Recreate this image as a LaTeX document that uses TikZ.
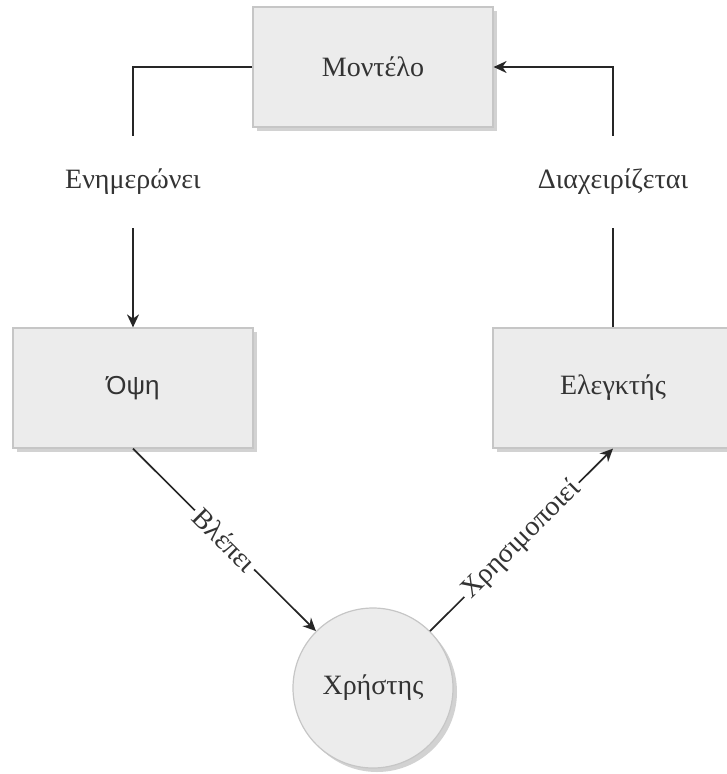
\documentclass[tikz,border=0pt]{standalone}
\usepackage{fontspec}
\setmainfont{Liberation Serif}
\newfontfamily\opsifont{Liberation Sans}
\usetikzlibrary{arrows.meta,shadows}

\begin{document}
\begin{tikzpicture}[x=1pt, y=-1pt, font=\fontsize{28}{32}\selectfont,
  box/.style={draw=gray!45, line width=1.2pt, fill=gray!15, minimum width=240pt, minimum height=120pt, text=black!80,
    drop shadow={shadow xshift=4pt, shadow yshift=-4pt, fill=gray!35, opacity=1}},
  link/.style={line width=1.7pt, black!85},
  tip/.style={-{Stealth[length=13pt, width=12pt]}},
  lbl/.style={fill=white, text=black!80, inner sep=3pt}]
\useasboundingbox (0,0) rectangle (727,774);

% Boxes of the pattern
\node[box] (model) at (373,67) {Μοντέλο};
\node[box] (view) at (133,388) {\opsifont\fontsize{26}{30}\selectfont Όψη};
\node[box] (ctrl) at (613,388) {Ελεγκτής};

% The user
\node[box, circle, minimum size=160pt] (user) at (373,688) {Χρήστης};

% Connectors with their labels
\draw[link, tip] (model.west) -| node[lbl, pos=0.72, minimum height=92pt] {Ενημερώνει} (view.north);
\draw[link, tip] (ctrl.north) |- node[lbl, pos=0.28, minimum height=92pt] {Διαχειρίζεται} (model.east);
\draw[link, tip] (view.south) -- node[lbl, sloped] {Βλέπει} (user);
\draw[link, tip] (user) -- node[lbl, sloped] {Χρησιμοποιεί} (ctrl.south);

\end{tikzpicture}
\end{document}
